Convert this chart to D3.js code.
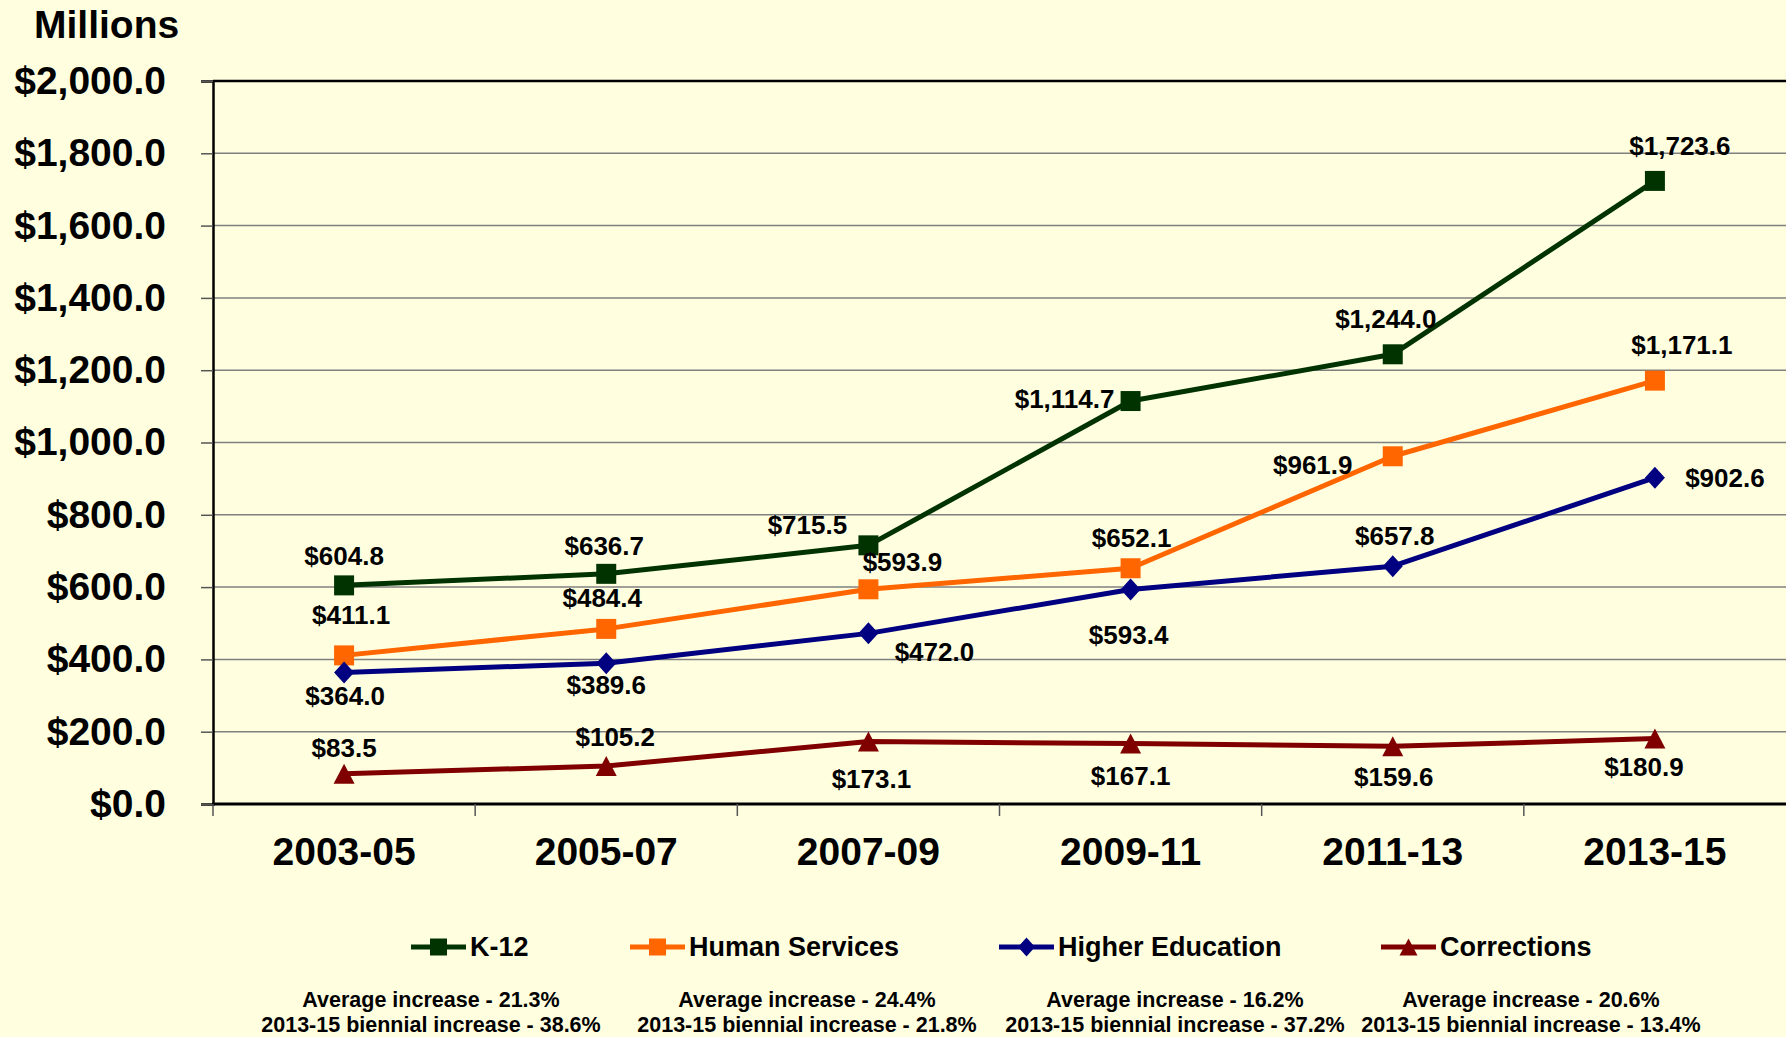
<!DOCTYPE html>
<html>
<head>
<meta charset="utf-8">
<script src="https://cdn.jsdelivr.net/npm/d3@7"></script>
<style>
    html, body { margin: 0; padding: 0; background: #FFFFE0; }
    svg { display: block; font-family: "Liberation Sans", Arial, sans-serif; font-weight: bold; }
</style>
</head>
<body>
<svg id="chart" width="1786" height="1037"></svg>
<script>
// biennia on the x axis
const periods = ["2003-05", "2005-07", "2007-09", "2009-11", "2011-13", "2013-15"];

// values in $ millions
const k12 = [604.8, 636.7, 715.5, 1114.7, 1244.0, 1723.6];
const humanServices = [411.1, 484.4, 593.9, 652.1, 961.9, 1171.1];
const higherEducation = [364.0, 389.6, 472.0, 593.4, 657.8, 902.6];
const corrections = [83.5, 105.2, 173.1, 167.1, 159.6, 180.9];

const seriesNames = ["K-12", "Human Services", "Higher Education", "Corrections"];
const yTicks = [0, 200, 400, 600, 800, 1000, 1200, 1400, 1600, 1800, 2000];

const averageIncrease = ["21.3%", "24.4%", "16.2%", "20.6%"];
const biennialIncrease = ["38.6%", "21.8%", "37.2%", "13.4%"];

const series = [
    { name: seriesNames[0], values: k12, color: "#003300", marker: "square" },
    { name: seriesNames[1], values: humanServices, color: "#FF6600", marker: "square" },
    { name: seriesNames[2], values: higherEducation, color: "#000080", marker: "diamond" },
    { name: seriesNames[3], values: corrections, color: "#800000", marker: "triangle" }
];

// where each data label sits relative to its point (dx, dy)
const labelOffsets = [
    [[0, -29], [-2, -28], [-61, -20], [-66, -2], [-7, -35], [25, -35]],
    [[7, -40], [-4, -31], [34, -27], [1, -30], [-80, 9], [27, -36]],
    [[1, 23], [0, 22], [66, 19], [-2, 45], [2, -30], [70, 0]],
    [[0, -26], [9, -29], [3, 37], [0, 32], [1, 31], [-11, 28]]
];

const markerPath = (type, s) => {
    if (type === "square") return `M${-s / 2},${-s / 2}h${s}v${s}h${-s}Z`;
    if (type === "diamond") return `M0,${-s / 2 - 1}L${s / 2},0L0,${s / 2 + 1}L${-s / 2},0Z`;
    return `M0,${-s / 2}L${s / 2 + 0.5},${s / 2}L${-s / 2 - 0.5},${s / 2}Z`;
};

const svg = d3.select("#chart");
const plot = { left: 213, right: 1786, top: 81, bottom: 804 };

const x = d3.scaleBand()
    .domain(periods)
    .range([plot.left, plot.right]);
const cx = p => x(p) + x.bandwidth() / 2;

const y = d3.scaleLinear()
    .domain([0, 2000])
    .range([plot.bottom, plot.top]);

// gridlines
svg.append("g")
    .selectAll("line")
    .data(yTicks.slice(1))
    .enter()
    .append("line")
    .attr("x1", plot.left)
    .attr("x2", plot.right)
    .attr("y1", d => y(d))
    .attr("y2", d => y(d))
    .attr("stroke", "#808080")
    .attr("stroke-width", 1.5);

// top border
svg.append("line")
    .attr("x1", plot.left).attr("x2", plot.right)
    .attr("y1", plot.top).attr("y2", plot.top)
    .attr("stroke", "#000").attr("stroke-width", 2.5);

// y axis
const yAxis = svg.append("g")
    .attr("transform", `translate(${plot.left},0)`)
    .call(d3.axisLeft(y)
        .tickValues(yTicks)
        .tickSize(12)
        .tickPadding(35)
        .tickFormat(d => "$" + d3.format(",.1f")(d)));
yAxis.select(".domain").attr("stroke", "#000").attr("stroke-width", 2.5);
yAxis.selectAll(".tick line").attr("stroke", "#555").attr("stroke-width", 1.5);
yAxis.selectAll("text")
    .attr("font-size", "39px")
    .attr("font-family", "Liberation Sans, Arial, sans-serif")
    .attr("font-weight", "bold")
    .attr("fill", "#000");

// x axis
const xAxis = svg.append("g")
    .attr("transform", `translate(0,${plot.bottom})`)
    .call(d3.axisBottom(x).tickSize(0).tickPadding(33));
xAxis.select(".domain").remove();
xAxis.selectAll("text")
    .attr("font-size", "39px")
    .attr("font-family", "Liberation Sans, Arial, sans-serif")
    .attr("font-weight", "bold")
    .attr("fill", "#000");

svg.append("line")
    .attr("x1", plot.left - 1).attr("x2", plot.right)
    .attr("y1", plot.bottom).attr("y2", plot.bottom)
    .attr("stroke", "#000").attr("stroke-width", 3);

// category boundary ticks
svg.append("g")
    .selectAll("line")
    .data(periods)
    .enter()
    .append("line")
    .attr("x1", d => x(d))
    .attr("x2", d => x(d))
    .attr("y1", plot.bottom)
    .attr("y2", plot.bottom + 12)
    .attr("stroke", "#555")
    .attr("stroke-width", 1.5);

// units title
svg.append("text")
    .attr("x", 34)
    .attr("y", 38)
    .attr("font-size", "39px")
    .text("Millions");

// lines + markers
const line = d3.line()
    .x((d, i) => cx(periods[i]))
    .y(d => y(d));

series.forEach(s => {
    svg.append("path")
        .datum(s.values)
        .attr("fill", "none")
        .attr("stroke", s.color)
        .attr("stroke-width", 5)
        .attr("stroke-linejoin", "round")
        .attr("d", line);

    svg.append("g")
        .selectAll("path")
        .data(s.values)
        .enter()
        .append("path")
        .attr("transform", (d, i) => `translate(${cx(periods[i])},${y(d)})`)
        .attr("d", markerPath(s.marker, 20))
        .attr("fill", s.color);
});

// data labels
series.forEach((s, si) => {
    svg.append("g")
        .selectAll("text")
        .data(s.values)
        .enter()
        .append("text")
        .attr("x", (d, i) => cx(periods[i]) + labelOffsets[si][i][0])
        .attr("y", (d, i) => y(d) + labelOffsets[si][i][1])
        .attr("dy", "0.35em")
        .attr("text-anchor", "middle")
        .attr("font-size", "26px")
        .attr("fill", "#000")
        .text(d => "$" + d3.format(",.1f")(d));
});

// legend
const legendX = [411, 630, 999, 1381];
const legendY = 947;
series.forEach((s, i) => {
    const g = svg.append("g").attr("transform", `translate(${legendX[i]},${legendY})`);
    g.append("line")
        .attr("x1", 0).attr("x2", 55)
        .attr("stroke", s.color)
        .attr("stroke-width", 5);
    g.append("path")
        .attr("transform", "translate(27.5,0)")
        .attr("d", markerPath(s.marker, 17))
        .attr("fill", s.color);
    g.append("text")
        .attr("x", 59)
        .attr("dy", "0.35em")
        .attr("font-size", "27px")
        .text(s.name);
});

// notes under legend
const noteX = [431, 807, 1175, 1531];
noteX.forEach((nx, i) => {
    svg.append("text")
        .attr("x", nx).attr("y", 999).attr("dy", "0.35em")
        .attr("text-anchor", "middle")
        .attr("font-size", "21.5px")
        .text(`Average increase - ${averageIncrease[i]}`);
    svg.append("text")
        .attr("x", nx).attr("y", 1024).attr("dy", "0.35em")
        .attr("text-anchor", "middle")
        .attr("font-size", "21.5px")
        .text(`2013-15 biennial increase - ${biennialIncrease[i]}`);
});
</script>
</body>
</html>
